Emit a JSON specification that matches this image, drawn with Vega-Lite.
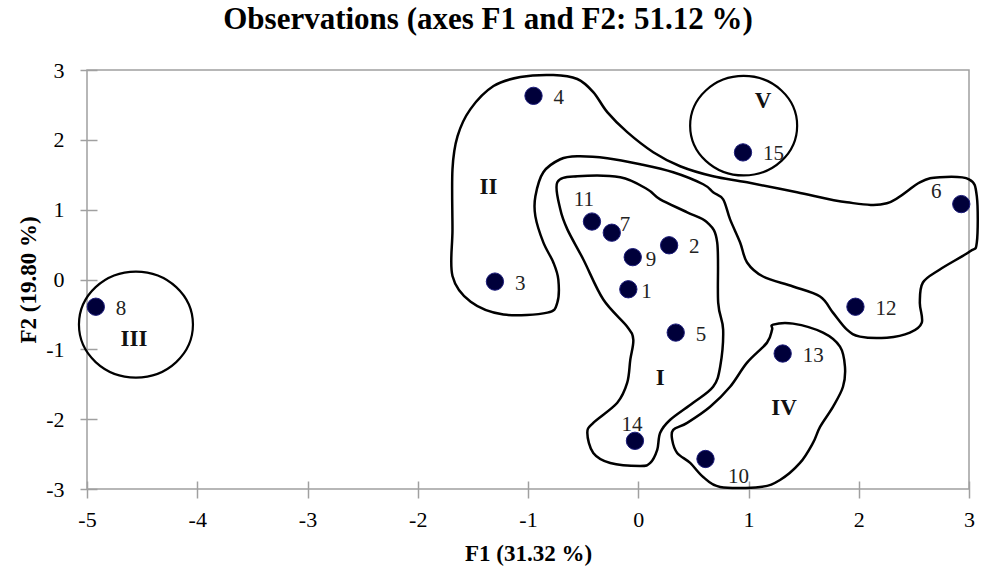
{
  "$schema": "https://vega.github.io/schema/vega-lite/v6.json",
  "autosize": {"type": "none"},
  "width": 882,
  "height": 419,
  "padding": {"left": 87, "top": 70, "right": 15, "bottom": 87},
  "background": "white",
  "title": {"text": "Observations  (axes F1 and F2: 51.12 %)", "font": "Liberation Serif", "fontSize": 31, "fontWeight": "bold", "color": "black", "dx": -40, "offset": 23},
  "config": {
    "view": {"stroke": "#a0a0a0", "strokeWidth": 1.5},
    "axis": {"grid": false, "domain": false, "tickColor": "#a0a0a0", "tickWidth": 1.5, "tickSize": 17, "labelFont": "Liberation Serif", "labelFontSize": 22, "labelColor": "black", "labelFlush": false, "labelExpr": "'' + datum.value", "titleFont": "Liberation Serif", "titleFontSize": 23, "titleFontWeight": "bold", "titleColor": "black"}
  },
  "datasets": {
    "obs": [
      {"id": 8, "x": -4.92, "y": -0.39},
      {"id": 3, "x": -1.30, "y": -0.03},
      {"id": 4, "x": -0.95, "y": 2.63},
      {"id": 11, "x": -0.42, "y": 0.83},
      {"id": 7, "x": -0.24, "y": 0.67},
      {"id": 9, "x": -0.05, "y": 0.32},
      {"id": 2, "x": 0.28, "y": 0.49},
      {"id": 1, "x": -0.09, "y": -0.14},
      {"id": 5, "x": 0.34, "y": -0.76},
      {"id": 14, "x": -0.03, "y": -2.31},
      {"id": 10, "x": 0.61, "y": -2.57},
      {"id": 13, "x": 1.31, "y": -1.06},
      {"id": 12, "x": 1.97, "y": -0.39},
      {"id": 6, "x": 2.93, "y": 1.08},
      {"id": 15, "x": 0.95, "y": 1.82}
    ],
    "groups": [
      {"name": "I", "x": 0.199, "y": -1.407},
      {"name": "II", "x": -1.359, "y": 1.321},
      {"name": "III", "x": -4.574, "y": -0.847},
      {"name": "IV", "x": 1.322, "y": -1.837},
      {"name": "V", "x": 1.132, "y": 2.555}
    ],
    "ellipses": [
      {"name": "III", "x": -4.556, "y": -0.646},
      {"name": "V", "x": 0.956, "y": 2.203}
    ],
    "outlines": [
      {"g": "A", "o": 1, "x": -1.685, "y": 0.05},
      {"g": "A", "o": 2, "x": -1.685, "y": 0.718},
      {"g": "A", "o": 3, "x": -1.685, "y": 1.579},
      {"g": "A", "o": 4, "x": -1.639, "y": 2.053},
      {"g": "A", "o": 5, "x": -1.522, "y": 2.44},
      {"g": "A", "o": 6, "x": -1.313, "y": 2.77},
      {"g": "A", "o": 7, "x": -1.069, "y": 2.899},
      {"g": "A", "o": 8, "x": -0.77, "y": 2.928},
      {"g": "A", "o": 9, "x": -0.553, "y": 2.871},
      {"g": "A", "o": 10, "x": -0.408, "y": 2.684},
      {"g": "A", "o": 11, "x": -0.281, "y": 2.397},
      {"g": "A", "o": 12, "x": -0.1, "y": 2.11},
      {"g": "A", "o": 13, "x": 0.136, "y": 1.823},
      {"g": "A", "o": 14, "x": 0.38, "y": 1.622},
      {"g": "A", "o": 15, "x": 0.679, "y": 1.478},
      {"g": "A", "o": 16, "x": 0.987, "y": 1.392},
      {"g": "A", "o": 17, "x": 1.44, "y": 1.249},
      {"g": "A", "o": 18, "x": 1.893, "y": 1.105},
      {"g": "A", "o": 19, "x": 2.255, "y": 1.091},
      {"g": "A", "o": 20, "x": 2.554, "y": 1.392},
      {"g": "A", "o": 21, "x": 2.736, "y": 1.464},
      {"g": "A", "o": 22, "x": 3.0, "y": 1.435},
      {"g": "A", "o": 23, "x": 3.071, "y": 1.191},
      {"g": "A", "o": 24, "x": 3.071, "y": 0.531},
      {"g": "A", "o": 25, "x": 3.007, "y": 0.402},
      {"g": "A", "o": 26, "x": 2.736, "y": 0.144},
      {"g": "A", "o": 27, "x": 2.582, "y": -0.043},
      {"g": "A", "o": 28, "x": 2.554, "y": -0.33},
      {"g": "A", "o": 29, "x": 2.572, "y": -0.617},
      {"g": "A", "o": 30, "x": 2.464, "y": -0.761},
      {"g": "A", "o": 31, "x": 2.255, "y": -0.833},
      {"g": "A", "o": 32, "x": 2.011, "y": -0.818},
      {"g": "A", "o": 33, "x": 1.893, "y": -0.718},
      {"g": "A", "o": 34, "x": 1.766, "y": -0.474},
      {"g": "A", "o": 35, "x": 1.649, "y": -0.244},
      {"g": "A", "o": 36, "x": 1.404, "y": -0.1},
      {"g": "A", "o": 37, "x": 1.132, "y": 0.043},
      {"g": "A", "o": 38, "x": 0.987, "y": 0.244},
      {"g": "A", "o": 39, "x": 0.924, "y": 0.531},
      {"g": "A", "o": 40, "x": 0.833, "y": 0.861},
      {"g": "A", "o": 41, "x": 0.77, "y": 1.148},
      {"g": "A", "o": 42, "x": 0.679, "y": 1.249},
      {"g": "A", "o": 43, "x": 0.589, "y": 1.364},
      {"g": "A", "o": 44, "x": 0.317, "y": 1.536},
      {"g": "A", "o": 45, "x": 0.018, "y": 1.651},
      {"g": "A", "o": 46, "x": -0.281, "y": 1.737},
      {"g": "A", "o": 47, "x": -0.553, "y": 1.765},
      {"g": "A", "o": 48, "x": -0.707, "y": 1.722},
      {"g": "A", "o": 49, "x": -0.861, "y": 1.536},
      {"g": "A", "o": 50, "x": -0.933, "y": 1.191},
      {"g": "A", "o": 51, "x": -0.933, "y": 0.904},
      {"g": "A", "o": 52, "x": -0.861, "y": 0.531},
      {"g": "A", "o": 53, "x": -0.77, "y": 0.244},
      {"g": "A", "o": 54, "x": -0.725, "y": 0},
      {"g": "A", "o": 55, "x": -0.734, "y": -0.33},
      {"g": "A", "o": 56, "x": -0.824, "y": -0.474},
      {"g": "A", "o": 57, "x": -1.223, "y": -0.502},
      {"g": "A", "o": 58, "x": -1.52, "y": -0.32},
      {"g": "I", "o": 1, "x": -0.734, "y": 1.392},
      {"g": "I", "o": 2, "x": -0.553, "y": 1.478},
      {"g": "I", "o": 3, "x": -0.163, "y": 1.464},
      {"g": "I", "o": 4, "x": 0.082, "y": 1.292},
      {"g": "I", "o": 5, "x": 0.199, "y": 1.148},
      {"g": "I", "o": 6, "x": 0.444, "y": 0.962},
      {"g": "I", "o": 7, "x": 0.625, "y": 0.818},
      {"g": "I", "o": 8, "x": 0.716, "y": 0.531},
      {"g": "I", "o": 9, "x": 0.725, "y": -0.33},
      {"g": "I", "o": 10, "x": 0.77, "y": -0.718},
      {"g": "I", "o": 11, "x": 0.743, "y": -1.249},
      {"g": "I", "o": 12, "x": 0.679, "y": -1.536},
      {"g": "I", "o": 13, "x": 0.498, "y": -1.765},
      {"g": "I", "o": 14, "x": 0.29, "y": -2.009},
      {"g": "I", "o": 15, "x": 0.199, "y": -2.196},
      {"g": "I", "o": 16, "x": 0.172, "y": -2.44},
      {"g": "I", "o": 17, "x": 0.109, "y": -2.627},
      {"g": "I", "o": 18, "x": 0.018, "y": -2.67},
      {"g": "I", "o": 19, "x": -0.254, "y": -2.627},
      {"g": "I", "o": 20, "x": -0.408, "y": -2.483},
      {"g": "I", "o": 21, "x": -0.462, "y": -2.196},
      {"g": "I", "o": 22, "x": -0.408, "y": -2.053},
      {"g": "I", "o": 23, "x": -0.19, "y": -1.765},
      {"g": "I", "o": 24, "x": -0.1, "y": -1.478},
      {"g": "I", "o": 25, "x": -0.072, "y": -1.148},
      {"g": "I", "o": 26, "x": -0.045, "y": -0.861},
      {"g": "I", "o": 27, "x": -0.1, "y": -0.675},
      {"g": "I", "o": 28, "x": -0.317, "y": -0.287},
      {"g": "I", "o": 29, "x": -0.498, "y": 0.287},
      {"g": "I", "o": 30, "x": -0.643, "y": 0.718},
      {"g": "I", "o": 31, "x": -0.707, "y": 1.005},
      {"g": "IV", "o": 1, "x": 1.223, "y": -0.646},
      {"g": "IV", "o": 2, "x": 1.404, "y": -0.632},
      {"g": "IV", "o": 3, "x": 1.676, "y": -0.761},
      {"g": "IV", "o": 4, "x": 1.83, "y": -0.962},
      {"g": "IV", "o": 5, "x": 1.875, "y": -1.249},
      {"g": "IV", "o": 6, "x": 1.857, "y": -1.536},
      {"g": "IV", "o": 7, "x": 1.766, "y": -1.823},
      {"g": "IV", "o": 8, "x": 1.649, "y": -2.11},
      {"g": "IV", "o": 9, "x": 1.585, "y": -2.34},
      {"g": "IV", "o": 10, "x": 1.467, "y": -2.627},
      {"g": "IV", "o": 11, "x": 1.286, "y": -2.871},
      {"g": "IV", "o": 12, "x": 1.105, "y": -2.971},
      {"g": "IV", "o": 13, "x": 0.743, "y": -2.971},
      {"g": "IV", "o": 14, "x": 0.589, "y": -2.828},
      {"g": "IV", "o": 15, "x": 0.471, "y": -2.627},
      {"g": "IV", "o": 16, "x": 0.353, "y": -2.483},
      {"g": "IV", "o": 17, "x": 0.308, "y": -2.297},
      {"g": "IV", "o": 18, "x": 0.317, "y": -2.153},
      {"g": "IV", "o": 19, "x": 0.444, "y": -2.053},
      {"g": "IV", "o": 20, "x": 0.652, "y": -1.823},
      {"g": "IV", "o": 21, "x": 0.833, "y": -1.536},
      {"g": "IV", "o": 22, "x": 0.987, "y": -1.191},
      {"g": "IV", "o": 23, "x": 1.168, "y": -0.904},
      {"g": "IV", "o": 24, "x": 1.214, "y": -0.718}
    ]
  },
  "encoding": {
    "x": {"field": "x", "type": "quantitative", "scale": {"domain": [-5, 3], "nice": false, "zero": false},
      "axis": {"title": "F1 (31.32 %)", "values": [-5, -4, -3, -2, -1, 0, 1, 2, 3], "offset": -8, "labelPadding": 11, "titlePadding": 12}},
    "y": {"field": "y", "type": "quantitative", "scale": {"domain": [-3, 3], "nice": false, "zero": false},
      "axis": {"title": "F2 (19.80 %)", "values": [-3, -2, -1, 0, 1, 2, 3], "offset": -10, "labelPadding": 16, "titlePadding": 5}}
  },
  "layer": [
    {
      "data": {"name": "outlines"},
      "mark": {"type": "line", "interpolate": "cardinal-closed", "color": "black", "strokeWidth": 2.5},
      "encoding": {"detail": {"field": "g"}, "order": {"field": "o", "type": "quantitative"}}
    },
    {
      "data": {"name": "ellipses"},
      "transform": [{"filter": "datum.name == 'III'"}],
      "mark": {"type": "point", "filled": false, "color": "black", "strokeWidth": 2.2, "opacity": 1, "size": 12996,
        "shape": "M-1,0C-1,-0.514,-0.552,-0.93,0,-0.93C0.552,-0.93,1,-0.514,1,0C1,0.514,0.552,0.93,0,0.93C-0.552,0.93,-1,0.514,-1,0Z"}
    },
    {
      "data": {"name": "ellipses"},
      "transform": [{"filter": "datum.name == 'V'"}],
      "mark": {"type": "point", "filled": false, "color": "black", "strokeWidth": 2.2, "opacity": 1, "size": 11449,
        "shape": "M-1,0C-1,-0.514,-0.552,-0.93,0,-0.93C0.552,-0.93,1,-0.514,1,0C1,0.514,0.552,0.93,0,0.93C-0.552,0.93,-1,0.514,-1,0Z"}
    },
    {
      "data": {"name": "obs"},
      "mark": {"type": "point", "shape": "circle", "filled": true, "size": 300, "fill": "#00003a", "stroke": "#1c1c7a", "strokeWidth": 1, "opacity": 1}
    },
    {
      "data": {"name": "obs"},
      "transform": [{"filter": "indexof([2,3,4,5,8,12,13,15], datum.id) >= 0"}],
      "mark": {"type": "text", "font": "Liberation Serif", "fontSize": 21, "color": "#222222", "align": "left", "baseline": "middle", "dx": 20, "dy": 2},
      "encoding": {"text": {"field": "id", "type": "nominal"}}
    },
    {
      "data": {"name": "obs"},
      "transform": [{"filter": "datum.id == 1 || datum.id == 9"}],
      "mark": {"type": "text", "font": "Liberation Serif", "fontSize": 21, "color": "#222222", "align": "left", "baseline": "middle", "dx": 13, "dy": 3},
      "encoding": {"text": {"field": "id", "type": "nominal"}}
    },
    {
      "data": {"name": "obs"},
      "transform": [{"filter": "datum.id == 7"}],
      "mark": {"type": "text", "font": "Liberation Serif", "fontSize": 21, "color": "#222222", "align": "left", "baseline": "middle", "dx": 8, "dy": -8},
      "encoding": {"text": {"field": "id", "type": "nominal"}}
    },
    {
      "data": {"name": "obs"},
      "transform": [{"filter": "datum.id == 11"}],
      "mark": {"type": "text", "font": "Liberation Serif", "fontSize": 21, "color": "#222222", "align": "center", "baseline": "middle", "dx": -8, "dy": -22},
      "encoding": {"text": {"field": "id", "type": "nominal"}}
    },
    {
      "data": {"name": "obs"},
      "transform": [{"filter": "datum.id == 14"}],
      "mark": {"type": "text", "font": "Liberation Serif", "fontSize": 21, "color": "#222222", "align": "center", "baseline": "middle", "dx": -3, "dy": -16},
      "encoding": {"text": {"field": "id", "type": "nominal"}}
    },
    {
      "data": {"name": "obs"},
      "transform": [{"filter": "datum.id == 10"}],
      "mark": {"type": "text", "font": "Liberation Serif", "fontSize": 21, "color": "#222222", "align": "center", "baseline": "middle", "dx": 33, "dy": 18},
      "encoding": {"text": {"field": "id", "type": "nominal"}}
    },
    {
      "data": {"name": "obs"},
      "transform": [{"filter": "datum.id == 6"}],
      "mark": {"type": "text", "font": "Liberation Serif", "fontSize": 21, "color": "#222222", "align": "center", "baseline": "middle", "dx": -25, "dy": -12},
      "encoding": {"text": {"field": "id", "type": "nominal"}}
    },
    {
      "data": {"name": "groups"},
      "mark": {"type": "text", "font": "Liberation Serif", "fontSize": 23, "fontWeight": "bold", "color": "#111111", "align": "center", "baseline": "middle"},
      "encoding": {"text": {"field": "name", "type": "nominal"}}
    }
  ]
}
